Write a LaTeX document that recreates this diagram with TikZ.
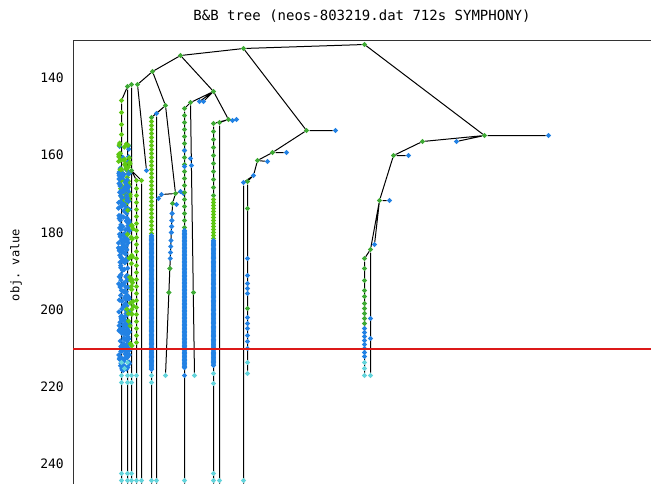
\documentclass[tikz,border=0pt]{standalone}
\usepackage{fontspec}
\setmonofont{DejaVu Sans Mono}
\usetikzlibrary{shapes.geometric}
\definecolor{gr}{RGB}{62,170,52}
\definecolor{lg}{RGB}{95,200,20}
\definecolor{bl}{RGB}{35,130,228}
\definecolor{cy}{RGB}{100,212,220}
\definecolor{incred}{RGB}{220,25,25}
\pgfdeclarelayer{bg}
\pgfsetlayers{bg,main}
\tikzset{
  mk/.style={diamond,inner sep=0pt,minimum size=5.6pt,draw=none},
  gnode/.style={mk,fill=gr},
  lnode/.style={mk,fill=lg},
  bnode/.style={mk,fill=bl},
  cnode/.style={mk,fill=cy},
  link/.style={draw=black,line width=1pt},
  ticklab/.style={font=\ttfamily\fontsize{13}{13}\selectfont,anchor=east,inner sep=0pt},
}
\newcommand\mkcol[6]{\foreach \yy [count=\k] in {#3,#4,...,#5} {\node[#1] (#6\k) at (#2,\yy) {};}}
\begin{document}
\begin{tikzpicture}[x=1pt,y=-1pt]
\useasboundingbox (0,0) rectangle (651,483);
\begin{pgfonlayer}{bg}
\fill[white] (0,0) rectangle (651,483);
\end{pgfonlayer}
% texts
\node[font=\ttfamily\fontsize{14}{14}\selectfont] (title) at (362,16) {B\&B tree (neos-803219.dat 712s SYMPHONY)};
\node[font=\ttfamily\fontsize{12}{12}\selectfont,rotate=90] (ylab) at (16,265) {obj. value};
\foreach \v/\yy in {140/77.7,160/155,180/232.3,200/309.6,220/386.9,240/464.2}
  \node[ticklab] (t\v) at (64,\yy) {\v};

\begin{scope}[shift={(0.5,0.5)}]
% ---------- top of tree ----------
\node[gnode] (R) at (364,44) {};
\node[gnode] (A) at (243,48) {};
\node[gnode] (B) at (484,135) {};
\node[bnode] (Bl) at (548,135) {};
\node[gnode] (C) at (180,55) {};
\node[gnode] (D) at (306,130) {};
\node[bnode] (Dl) at (335,130) {};
\node[gnode] (E) at (272,152) {};
\node[bnode] (El) at (286,152) {};
\node[gnode] (F) at (257,160) {};
\node[bnode] (Fl) at (267,161) {};
\node[bnode] (F2) at (253,175) {};
\node[gnode] (G) at (247,181) {};
\node[bnode] (G2) at (243,182) {};
% right branch
\node[gnode] (I) at (422,141) {};
\node[bnode] (Il) at (456,141) {};
\node[gnode] (J) at (393,155) {};
\node[bnode] (Jl) at (408,155) {};
\node[gnode] (K) at (379,200) {};
\node[bnode] (Kl) at (389,200) {};
\node[bnode] (L) at (374,244) {};
\node[gnode] (M) at (370,249) {};
\node[gnode] (N) at (364,258) {};
\foreach \yy [count=\k] in {268,280,290,296,303,308,313,318,323} \node[gnode] (n\k) at (364,\yy) {};
\foreach \yy [count=\k] in {328,332,336,340,344,348,352,356} \node[bnode] (nb\k) at (364,\yy) {};
\node[cnode] (nc1) at (364,362) {};
\node[cnode] (nc2) at (364,368) {};
\node[cnode] (nbot) at (364,375) {};
\node[bnode] (m1) at (370,318) {};
\node[bnode] (m2) at (370,338) {};
\node[cnode] (mbot) at (370,375) {};
% column under G
\node[gnode] (g1) at (247,208) {};
\node[gnode] (g2) at (247,308) {};
\foreach \yy [count=\k] in {258,275,283,288,293,317,323,328,335,341,348} \node[bnode] (gb\k) at (247,\yy) {};
\node[cnode] (gc1) at (247,362) {};
\node[cnode] (gbot) at (247,373) {};
\node[cnode] (g2bot) at (243,480) {};
\coordinate (e243) at (243,483);

% ---------- left part ----------
\node[gnode] (P) at (152,71) {};
\node[gnode] (Q) at (213,91) {};
\node[gnode] (U) at (137,84) {};
\node[gnode] (W) at (131,84) {};
\node[gnode] (X) at (127,86) {};
\node[bnode] (Ul) at (146,170) {};
\node[gnode] (V) at (165,105) {};
\node[bnode] (Vb) at (156,113) {};
\node[gnode] (Vg) at (151,117) {};
\node[lnode] (X0) at (121,100) {};
% big dense column
\pgfmathsetseed{4711}
\foreach \yy [count=\k] in {112,124,134} \node[lnode] (a\k) at (121,\yy) {};
\foreach \i in {1,...,16} {\pgfmathsetmacro\yy{145+rnd*35}\pgfmathsetmacro\xx{118+rnd*11}\node[bnode] (ab0\i) at (\xx,\yy) {};}
\foreach \i in {1,...,60} {\pgfmathsetmacro\yy{140+rnd*65}\pgfmathsetmacro\xx{118+rnd*12}\node[lnode] (ag\i) at (\xx,\yy) {};}
\foreach \i in {1,...,260} {\pgfmathsetmacro\yy{172+rnd*198}\pgfmathsetmacro\xx{118+rnd*11}\node[bnode] (ab\i) at (\xx,\yy) {};}
\foreach \i in {1,...,30} {\pgfmathsetmacro\yy{200+rnd*150}\pgfmathsetmacro\xx{126+rnd*7}\node[lnode] (as\i) at (\xx,\yy) {};}
\node[gnode] (W170) at (131,170) {};
\node[lnode] (S136) at (136,180) {};
\node[lnode] (S141) at (141,180) {};
\mkcol{lnode}{136}{188}{195}{345}{e}
\foreach \xx/\yy [count=\k] in {121/362,124/368,127/362,121/375,127/375,131/375,136/375,121/382,127/382,131/382,151/375,151/382}
  \node[cnode] (cc\k) at (\xx,\yy) {};
\foreach \xx [count=\k] in {121,127,131,213} \node[cnode] (cl\k) at (\xx,473) {};
\node[cnode] (b121) at (121,480) {};
\node[cnode] (b127) at (127,480) {};
\node[cnode] (b131) at (131,480) {};
\node[cnode] (b136) at (136,480) {};
\node[cnode] (b141) at (141,480) {};
\node[cnode] (b151) at (151,480) {};
\node[cnode] (b156) at (156,480) {};
\node[cnode] (b184) at (184,480) {};
\node[cnode] (b213) at (213,480) {};
\node[cnode] (b219) at (219,480) {};
\foreach \xx in {121,127,131,136,141,151,156,184,213,219} \coordinate (e\xx) at (\xx,483);
% column 151
\mkcol{lnode}{151}{121}{125}{233}{f}
\mkcol{bnode}{151}{235}{236.3}{369}{fb}
% cluster Y
\node[gnode] (Y) at (175,193) {};
\node[bnode] (Yb1) at (161,194) {};
\node[bnode] (Yb2) at (158,198) {};
\node[bnode] (Yb3) at (180,191) {};
\node[bnode] (Yb4) at (183,193) {};
\node[gnode] (Y2) at (172,203) {};
\node[bnode] (Y2b) at (176,204) {};
\foreach \yy [count=\k] in {213,220,226,232,240,246,252,258} {\pgfmathsetmacro\xx{172-7*(\yy-203)/172}\node[bnode] (yb\k) at (\xx,\yy) {};}
\foreach \yy [count=\k] in {268,292} {\pgfmathsetmacro\xx{172-7*(\yy-203)/172}\node[gnode] (yg\k) at (\xx,\yy) {};}
\node[cnode] (ybot) at (165,375) {};
% Q subtree
\node[gnode] (Qa) at (190,102) {};
\node[bnode] (Qb) at (199,101) {};
\node[bnode] (Qc) at (203,101) {};
\node[gnode] (Q184) at (184,108) {};
\mkcol{gnode}{184}{115}{122}{227}{h}
\node[bnode] (h150) at (184,150) {};
\node[bnode] (h166) at (184,166) {};
\mkcol{bnode}{184}{230}{231.4}{368}{hb}
\node[bnode] (h375) at (184,375) {};
\node[bnode] (q1) at (190,158) {};
\node[bnode] (q2) at (191,165) {};
\node[gnode] (q3) at (193,292) {};
\node[cnode] (qbot) at (194,375) {};
\node[gnode] (T) at (228,119) {};
\node[bnode] (Tb1) at (232,120) {};
\node[bnode] (Tb2) at (236,119) {};
\node[gnode] (T1) at (219,122) {};
\node[gnode] (T2) at (213,123) {};
\mkcol{gnode}{213}{131}{139}{195}{j}
\mkcol{lnode}{213}{199}{202}{238}{jl}
\mkcol{bnode}{213}{240}{241.3}{366}{jb}
\node[cnode] (jc1) at (213,373) {};
\node[cnode] (jc2) at (213,383) {};

% ---------- connectors ----------
\begin{pgfonlayer}{bg}
\coordinate (fbl) at (73,483); \coordinate (ftl) at (73,40); \coordinate (ftr) at (651,40);
\draw[black!80,line width=1pt] (fbl) -- (ftl) -- (ftr);
\draw[link] (R)--(A) (R)--(B) (A)--(C) (A)--(D) (D)--(Dl) (D)--(E) (E)--(El) (E)--(F)
  (F)--(Fl) (F)--(F2) (F2)--(G) (F2)--(G2) (G)--(gbot) (G2)--(e243)
  (B)--(Bl) (B)--(I) (B)--(Il) (I)--(J) (J)--(Jl) (J)--(K) (K)--(Kl) (K)--(L) (K)--(M)
  (M)--(N) (N)--(nbot) (M)--(mbot)
  (C)--(P) (C)--(Q) (P)--(U) (U)--(W) (W)--(X) (U)--(Ul) (P)--(V) (V)--(Vb) (V)--(Vg)
  (X)--(X0) (X0)--(e121) (X)--(e127) (W)--(e131) (W170)--(S136) (W170)--(S141)
  (S136)--(e136) (S141)--(e141) (Vg)--(e151) (Vb)--(e156)
  (V)--(Y) (Y)--(Yb1) (Yb1)--(Yb2) (Y)--(Yb3) (Yb3)--(Yb4) (Y)--(Y2) (Y2)--(Y2b) (Y2)--(ybot)
  (Q)--(Qa) (Q)--(Qb) (Q)--(Qc) (Qa)--(Q184) (Q184)--(e184) (Qa)--(qbot)
  (Q)--(T) (T)--(Tb1) (T)--(Tb2) (T)--(T1) (T)--(T2) (T1)--(e219) (T2)--(e213);
\draw[link,line width=1.3pt] (X0)--(a3);
\end{pgfonlayer}
\end{scope}

% incumbent line (thin filled band)
\coordinate (rl) at (73,348.4); \coordinate (rr) at (651,349.7);
\fill[incred] (rl) rectangle (rr);
\end{tikzpicture}
\end{document}
